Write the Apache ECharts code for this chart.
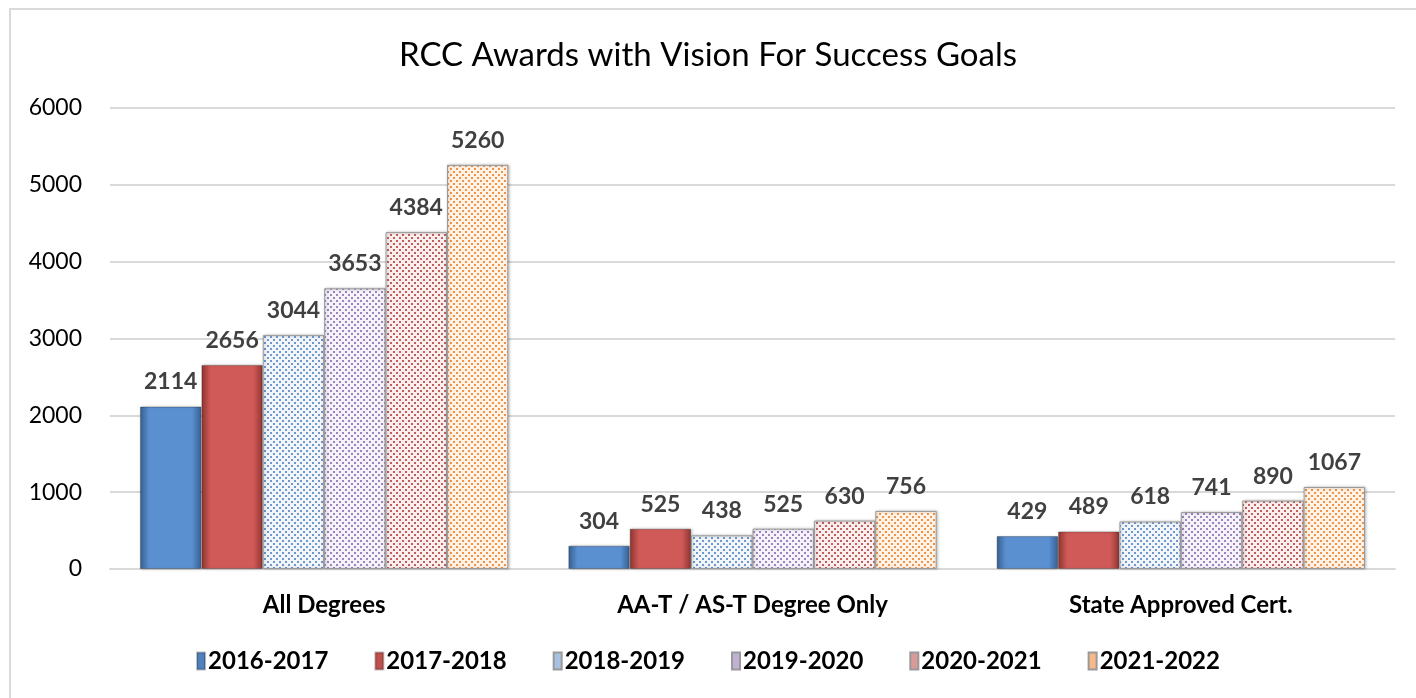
<!DOCTYPE html>
<html>
<head>
<meta charset="utf-8">
<script src="https://cdn.jsdelivr.net/npm/echarts@6/dist/echarts.min.js"></script>
<style>
  html, body { margin: 0; padding: 0; background: #fff; }
  #chart { width: 1416px; height: 698px; }
  #frame { position: absolute; left: 9px; top: 8px; width: 1420px; height: 700px; border-left: 2px solid #d9d9d9; border-top: 2px solid #d9d9d9; pointer-events: none; }
</style>
</head>
<body>
<div id="chart"></div>
<div id="frame"></div>
<script>
var categories = ['All Degrees', 'AA-T / AS-T Degree Only', 'State Approved Cert.'];
var years = ['2016-2017', '2017-2018', '2018-2019', '2019-2020', '2020-2021', '2021-2022'];
var v2016 = [2114, 304, 429];
var v2017 = [2656, 525, 489];
var v2018 = [3044, 438, 618];
var v2019 = [3653, 525, 741];
var v2020 = [4384, 630, 890];
var v2021 = [5260, 756, 1067];
var yTicks = [0, 1000, 2000, 3000, 4000, 5000, 6000];

var values = [v2016, v2017, v2018, v2019, v2020, v2021];

// dotted fill like the office pattern fills
function dots(bg, dot) {
  var c = document.createElement('canvas');
  c.width = 6; c.height = 6;
  var g = c.getContext('2d');
  g.fillStyle = bg; g.fillRect(0, 0, 6, 6);
  g.fillStyle = dot;
  g.fillRect(0, 0, 2, 2);
  g.fillRect(3, 3, 2, 2);
  return { image: c, repeat: 'repeat' };
}

function bevel(mid, edge) {
  return {
    type: 'linear', x: 0, y: 0, x2: 1, y2: 0,
    colorStops: [
      { offset: 0, color: edge }, { offset: 0.15, color: mid },
      { offset: 0.85, color: mid }, { offset: 1, color: edge }
    ]
  };
}

var fills = [
  bevel('#5a8fd0', '#365f91'),
  bevel('#cf5a57', '#8e3431'),
  dots('#f2f6fb', '#6f98cc'),
  dots('#f6f2fa', '#9c84be'),
  dots('#fbeeee', '#c0605d'),
  dots('#fff3e8', '#f29448')
];
var legendColors = ['#4f81bd', '#c0504d', '#a9c1e0', '#bfb0d4', '#d99a98', '#f8b888'];

var chart = echarts.init(document.getElementById('chart'));

var series = years.map(function (y, i) {
  return {
    name: y,
    type: 'bar',
    data: values[i],
    barGap: '0%',
    barCategoryGap: '14%',
    itemStyle: {
      color: fills[i],
      borderColor: i < 2 ? 'rgba(0,0,0,0.25)' : '#9a9a9a',
      borderWidth: 1,
      shadowColor: 'rgba(0,0,0,0.25)',
      shadowBlur: 3,
      shadowOffsetX: 1
    },
    label: {
      show: true,
      position: 'top',
      distance: 13,
      color: '#404040',
      fontFamily: 'Lato',
      fontWeight: 'bold',
      fontSize: 23
    }
  };
});

chart.setOption({
  animation: false,
  title: {
    text: 'RCC Awards with Vision For Success Goals',
    left: 'center',
    top: 34,
    textStyle: { fontFamily: 'Lato', fontWeight: 'normal', fontSize: 33, color: '#000' }
  },
  legend: {
    data: years.map(function (y, i) {
      return { name: y, itemStyle: { color: legendColors[i] } };
    }),
    bottom: 20,
    left: 'center',
    icon: 'rect',
    itemWidth: 8,
    itemHeight: 17,
    itemGap: 46,
    textStyle: { fontFamily: 'Lato', fontWeight: 'bold', fontSize: 24, color: '#000', padding: [0, 0, 0, -2] }
  },
  grid: { left: 110, right: 21, top: 108, bottom: 129, containLabel: false },
  xAxis: {
    type: 'category',
    data: categories,
    axisTick: { show: false },
    axisLine: { lineStyle: { color: '#d9d9d9', width: 2 } },
    axisLabel: { fontFamily: 'Lato', fontWeight: 'bold', fontSize: 24, color: '#000', margin: 24 }
  },
  yAxis: {
    type: 'value',
    min: yTicks[0],
    max: yTicks[yTicks.length - 1],
    interval: 1000,
    axisLine: { show: false },
    axisTick: { show: false },
    splitLine: { lineStyle: { color: '#d9d9d9', width: 2 } },
    axisLabel: { fontFamily: 'Lato', fontSize: 23, color: '#000', margin: 28, formatter: function (v) { return String(v); } }
  },
  series: series
});
</script>
</body>
</html>
